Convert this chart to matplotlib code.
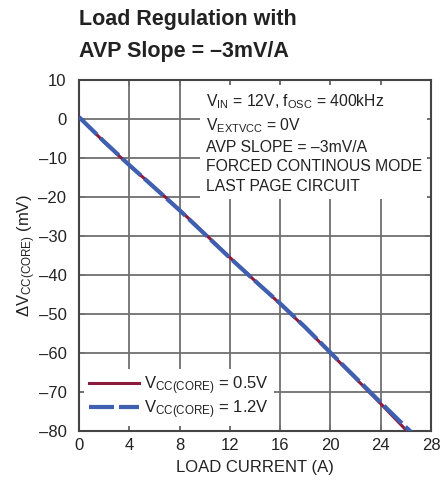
import numpy as np
import matplotlib
matplotlib.use('Agg')
import matplotlib.pyplot as plt

# data
load_current = [0, 2, 4, 6, 8, 10, 12, 14, 16, 18, 20, 22, 24, 26, 26.3]
dv_05 = [0.5, -5.9, -11.9, -17.5, -23.3, -29.4, -35.5, -41.5, -47.4, -53.5, -60.0, -66.5, -73.0, -79.7, -80.6]
load_current_12 = [0, 2, 4, 6, 8, 10, 12, 14, 16, 18, 20, 22, 24, 26, 26.5]
dv_12 = [0.5, -5.8, -11.8, -17.6, -23.4, -29.5, -35.6, -41.5, -47.3, -53.4, -59.9, -66.3, -72.7, -79.0, -80.5]

xticks = [0, 4, 8, 12, 16, 20, 24, 28]
yticks = [10, 0, -10, -20, -30, -40, -50, -60, -70, -80]

fam = 'Liberation Sans'
plt.rcParams['font.family'] = [fam, 'DejaVu Sans']
plt.rcParams['mathtext.fontset'] = 'custom'
plt.rcParams['mathtext.rm'] = fam
plt.rcParams['mathtext.it'] = fam
plt.rcParams['mathtext.bf'] = fam + ':bold'

red = '#8c1c3c'
blue = '#3f5fb0'
grid_c = '#707070'
txt_c = '#222222'

fig = plt.figure(figsize=(4.43, 4.87), dpi=100)
ax = fig.add_axes([79/443, 1 - 431/487, 352/443, 351/487])

ax.plot(load_current, dv_05, color=red, lw=2.2, label=r'V$_{\mathrm{CC(CORE)}}$ = 0.5V', zorder=3)
ax.plot(load_current_12, dv_12, color=blue, lw=3, ls=(0, (6, 1.2)), label=r'V$_{\mathrm{CC(CORE)}}$ = 1.2V', zorder=4)

ax.set_xlim(0, 28)
ax.set_ylim(-80, 10)
ax.set_xticks(xticks)
ax.set_yticks(yticks)
ax.set_yticklabels([str(t).replace('-', '\u2013') for t in yticks])
ax.grid(color=grid_c, lw=1.3)
ax.set_axisbelow(True)
ax.tick_params(direction='in', length=4, width=1.2, color=grid_c, labelsize=12,
               top=True, right=True, labelcolor=txt_c)
ax.tick_params(axis='y', pad=9)
ax.tick_params(axis='x', pad=5)
for s in ax.spines.values():
    s.set_color('#444444')
    s.set_linewidth(1.5)

ax.set_xlabel('LOAD CURRENT (A)', fontsize=12, color=txt_c, labelpad=5)
ax.set_ylabel(r'$\Delta$V$_{\mathrm{CC(CORE)}}$ (mV)', fontsize=12, color=txt_c, labelpad=0)

info = ('V$_{\\mathrm{IN}}$ = 12V, f$_{\\mathrm{OSC}}$ = 400kHz\n'
        'V$_{\\mathrm{EXTVCC}}$ = 0V\n'
        'AVP SLOPE = \u20133mV/A\n'
        'FORCED CONTINOUS MODE\n'
        'LAST PAGE CIRCUIT')
ax.text(0.36, 0.965, info, transform=ax.transAxes, ha='left', va='top', fontsize=11.3,
        color=txt_c, linespacing=1.38, zorder=5,
        bbox=dict(boxstyle='square,pad=0.35', fc='white', ec='none'))

leg = ax.legend(loc='lower left', bbox_to_anchor=(0.0, 0.0), fontsize=12, frameon=True,
                handlelength=3.0, handletextpad=0.3, labelspacing=0.1, borderpad=0.3,
                borderaxespad=0.3, fancybox=False)
leg.get_frame().set_edgecolor('none')
leg.get_frame().set_facecolor('white')
leg.get_frame().set_alpha(1)
for t in leg.get_texts():
    t.set_color(txt_c)

fig.text(79/443, 1 - 25/487, 'Load Regulation with', fontsize=15.5, fontweight='bold',
         ha='left', va='baseline', color=txt_c)
fig.text(79/443, 1 - 57/487, 'AVP Slope = \u20133mV/A', fontsize=15.5, fontweight='bold',
         ha='left', va='baseline', color=txt_c)

fig.savefig('out.png', dpi=100)
